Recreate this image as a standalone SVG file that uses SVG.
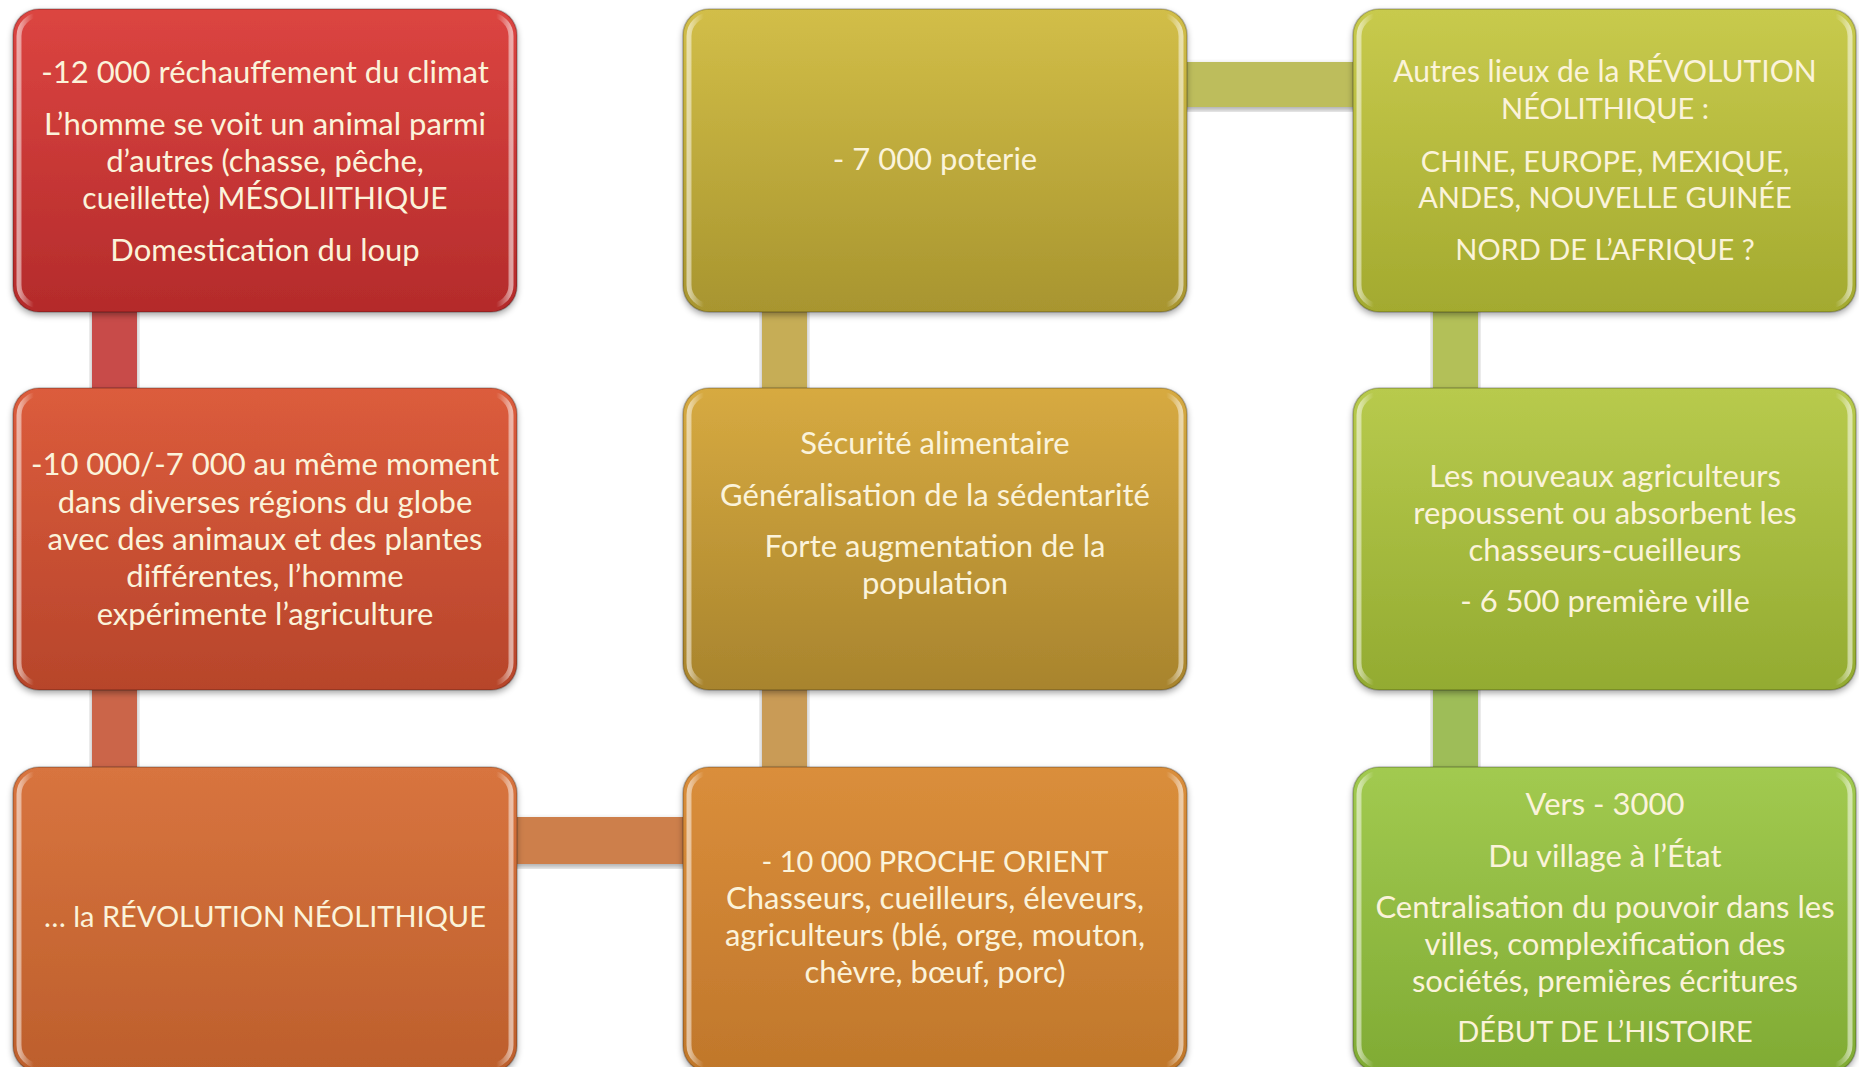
<svg xmlns="http://www.w3.org/2000/svg" width="1859" height="1067" viewBox="0 0 1859 1067">
<defs>
<filter id="sh" x="-5%" y="-5%" width="110%" height="115%">
<feDropShadow dx="0" dy="3" stdDeviation="3" flood-color="#000" flood-opacity="0.35"/>
</filter>
<linearGradient id="hl" x1="0" y1="0" x2="1" y2="0">
<stop offset="0" stop-color="#fff" stop-opacity="0.55"/>
<stop offset="0.03" stop-color="#fff" stop-opacity="0"/>
<stop offset="0.97" stop-color="#fff" stop-opacity="0"/>
<stop offset="1" stop-color="#fff" stop-opacity="0.55"/>
</linearGradient>
<linearGradient id="g1" x1="0" y1="0" x2="0" y2="1"><stop offset="0" stop-color="#dc4541"/><stop offset="1" stop-color="#b42b2b"/></linearGradient>
<linearGradient id="g2" x1="0" y1="0" x2="0" y2="1"><stop offset="0" stop-color="#dc5c3c"/><stop offset="1" stop-color="#b7452b"/></linearGradient>
<linearGradient id="g3" x1="0" y1="0" x2="0" y2="1"><stop offset="0" stop-color="#d8743f"/><stop offset="1" stop-color="#bd5f2c"/></linearGradient>
<linearGradient id="g4" x1="0" y1="0" x2="0" y2="1"><stop offset="0" stop-color="#da8e3b"/><stop offset="1" stop-color="#c0772b"/></linearGradient>
<linearGradient id="g5" x1="0" y1="0" x2="0" y2="1"><stop offset="0" stop-color="#d7aa41"/><stop offset="1" stop-color="#a8842d"/></linearGradient>
<linearGradient id="g6" x1="0" y1="0" x2="0" y2="1"><stop offset="0" stop-color="#d2be48"/><stop offset="1" stop-color="#a8952f"/></linearGradient>
<linearGradient id="g7" x1="0" y1="0" x2="0" y2="1"><stop offset="0" stop-color="#c8ca4d"/><stop offset="1" stop-color="#a3aa2f"/></linearGradient>
<linearGradient id="g8" x1="0" y1="0" x2="0" y2="1"><stop offset="0" stop-color="#b8ca4d"/><stop offset="1" stop-color="#93ab31"/></linearGradient>
<linearGradient id="g9" x1="0" y1="0" x2="0" y2="1"><stop offset="0" stop-color="#a2ca50"/><stop offset="1" stop-color="#80ab34"/></linearGradient>
</defs>
<style>
.box{stroke:#000;stroke-opacity:0.22;stroke-width:1.5;filter:url(#sh)}
.bev{fill:none;stroke:url(#hl);stroke-width:5}
.con{filter:url(#sh)}
text{font-family:Lato,"Open Sans","Liberation Sans",sans-serif;font-size:31px;fill:#fbf3da;text-anchor:middle;dominant-baseline:central}
text.m{font-size:30px}
text.c{font-size:29px}
</style>
<rect width="1859" height="1067" fill="#fff"/>
<g id="connectors">
<rect class="con" x="92" y="300" width="45" height="100" fill="#c84b4a"/>
<rect class="con" x="92" y="680" width="45" height="100" fill="#cb6548"/>
<rect class="con" x="505" y="817" width="190" height="47" fill="#cd7f4c"/>
<rect class="con" x="762" y="680" width="45" height="100" fill="#c99b56"/>
<rect class="con" x="762" y="300" width="45" height="100" fill="#c6ad57"/>
<rect class="con" x="1175" y="62" width="190" height="45" fill="#bdbd5b"/>
<rect class="con" x="1433" y="300" width="45" height="100" fill="#b3c058"/>
<rect class="con" x="1433" y="680" width="45" height="100" fill="#9ebd58"/>
</g>
<g id="n1">
<rect class="box" x="13" y="9" width="504" height="303" rx="26" fill="url(#g1)"/>
<rect class="bev" x="19" y="15" width="492" height="291" rx="21"/>
<text x="265" y="71">-12 000 réchauffement du climat</text>
<text x="265" y="123">L’homme se voit un animal parmi</text>
<text x="265" y="160">d’autres (chasse, pêche,</text>
<text class="m" x="265" y="197">cueillette) MÉSOLIITHIQUE</text>
<text x="265" y="249">Domestication du loup</text>
</g>
<g id="n2">
<rect class="box" x="13" y="388" width="504" height="302" rx="26" fill="url(#g2)"/>
<rect class="bev" x="19" y="394" width="492" height="290" rx="21"/>
<text x="265" y="463">-10 000/-7 000 au même moment</text>
<text x="265" y="501">dans diverses régions du globe</text>
<text x="265" y="538">avec des animaux et des plantes</text>
<text x="265" y="575">différentes, l’homme</text>
<text x="265" y="613">expérimente l’agriculture</text>
</g>
<g id="n3">
<rect class="box" x="13" y="767" width="504" height="305" rx="26" fill="url(#g3)"/>
<rect class="bev" x="19" y="773" width="492" height="293" rx="21"/>
<text class="c" x="265" y="915">… la RÉVOLUTION NÉOLITHIQUE</text>
</g>
<g id="n4">
<rect class="box" x="683" y="767" width="504" height="305" rx="26" fill="url(#g4)"/>
<rect class="bev" x="689" y="773" width="492" height="293" rx="21"/>
<text class="c" x="935" y="860">- 10 000 PROCHE ORIENT</text>
<text x="935" y="897">Chasseurs, cueilleurs, éleveurs,</text>
<text x="935" y="934">agriculteurs (blé, orge, mouton,</text>
<text x="935" y="971">chèvre, bœuf, porc)</text>
</g>
<g id="n5">
<rect class="box" x="683" y="388" width="504" height="302" rx="26" fill="url(#g5)"/>
<rect class="bev" x="689" y="394" width="492" height="290" rx="21"/>
<text x="935" y="442">Sécurité alimentaire</text>
<text x="935" y="494">Généralisation de la sédentarité</text>
<text x="935" y="545">Forte augmentation de la</text>
<text x="935" y="582">population</text>
</g>
<g id="n6">
<rect class="box" x="683" y="9" width="504" height="303" rx="26" fill="url(#g6)"/>
<rect class="bev" x="689" y="15" width="492" height="291" rx="21"/>
<text x="935" y="158">- 7 000 poterie</text>
</g>
<g id="n7">
<rect class="box" x="1353" y="9" width="503" height="303" rx="26" fill="url(#g7)"/>
<rect class="bev" x="1359" y="15" width="491" height="291" rx="21"/>
<text class="m" x="1605" y="70">Autres lieux de la RÉVOLUTION</text>
<text class="c" x="1605" y="107">NÉOLITHIQUE :</text>
<text class="c" x="1605" y="160">CHINE, EUROPE, MEXIQUE,</text>
<text class="c" x="1605" y="196">ANDES, NOUVELLE GUINÉE</text>
<text class="c" x="1605" y="248">NORD DE L’AFRIQUE ?</text>
</g>
<g id="n8">
<rect class="box" x="1353" y="388" width="503" height="302" rx="26" fill="url(#g8)"/>
<rect class="bev" x="1359" y="394" width="491" height="290" rx="21"/>
<text x="1605" y="475">Les nouveaux agriculteurs</text>
<text x="1605" y="512">repoussent ou absorbent les</text>
<text x="1605" y="549">chasseurs-cueilleurs</text>
<text x="1605" y="600">- 6 500 première ville</text>
</g>
<g id="n9">
<rect class="box" x="1353" y="767" width="503" height="305" rx="26" fill="url(#g9)"/>
<rect class="bev" x="1359" y="773" width="491" height="293" rx="21"/>
<text x="1605" y="803">Vers - 3000</text>
<text x="1605" y="855">Du village à l’État</text>
<text x="1605" y="906">Centralisation du pouvoir dans les</text>
<text x="1605" y="943">villes, complexification des</text>
<text x="1605" y="980">sociétés, premières écritures</text>
<text class="c" x="1605" y="1030">DÉBUT DE L’HISTOIRE</text>
</g>
</svg>
